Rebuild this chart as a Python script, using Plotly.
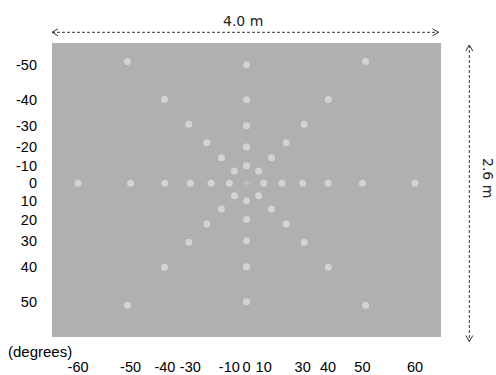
import numpy as np
import plotly.graph_objects as go

# Angular positions (degrees off the line of sight) of the target dots
horizontal_angles = [10, 20, 30, 40, 50, 60]
vertical_angles = [10, 20, 30, 40, 50]
diagonal_angles = [10, 20, 30, 40, 50, 60]

x_tick_labels = [-60, -50, -40, -30, -10, 0, 10, 30, 40, 50, 60]
y_tick_labels = [-50, -40, -30, -20, -10, 0, 10, 20, 30, 40, 50]

screen_width_label = "4.0 m"
screen_height_label = "2.6 m"
unit_label = "(degrees)"


def gnomonic(theta_deg, direction_deg):
    r = np.tan(np.radians(theta_deg))
    d = np.radians(direction_deg)
    return r * np.cos(d), r * np.sin(d)


xs, ys = [], []
for a in horizontal_angles:
    for d in (0, 180):
        x, y = gnomonic(a, d); xs.append(x); ys.append(y)
for a in vertical_angles:
    for d in (90, 270):
        x, y = gnomonic(a, d); xs.append(x); ys.append(y)
for a in diagonal_angles:
    for d in (45, 135, 225, 315):
        x, y = gnomonic(a, d); xs.append(x); ys.append(y)

fig = go.Figure()
fig.add_trace(go.Scatter(
    x=xs, y=ys, mode="markers",
    marker=dict(size=7, color="#d3d3d3", line=dict(width=0)),
    hoverinfo="skip", showlegend=False,
))
fig.add_trace(go.Scatter(
    x=[0], y=[0], mode="markers",
    marker=dict(size=5, symbol="cross-thin", color="#c6c6c6",
                line=dict(width=1, color="#c6c6c6")),
    hoverinfo="skip", showlegend=False,
))

W, H = 389.0, 294.0
def px(xp):
    return (xp - 52) / W
def py(yp):
    return (337 - yp) / H

line_style = dict(color="#333333", width=1, dash="3px,2px")
head_style = dict(color="#333333", width=1)
shapes = []
# horizontal double arrow
hy = py(32.3)
x0, x1 = px(52), px(438.5)
shapes.append(dict(type="line", xref="paper", yref="paper", x0=x0, x1=x1, y0=hy, y1=hy, line=line_style))
dx, dy = 6 / W, 3.5 / H
shapes.append(dict(type="path", xref="paper", yref="paper",
                   path=f"M{x0+dx},{hy+dy} L{x0},{hy} L{x0+dx},{hy-dy}", line=head_style))
shapes.append(dict(type="path", xref="paper", yref="paper",
                   path=f"M{x1-dx},{hy+dy} L{x1},{hy} L{x1-dx},{hy-dy}", line=head_style))
# vertical double arrow
vx = px(469.3)
y0, y1 = py(45), py(341.5)
shapes.append(dict(type="line", xref="paper", yref="paper", x0=vx, x1=vx, y0=y0, y1=y1, line=line_style))
ddx, ddy = 3.5 / W, 6 / H
shapes.append(dict(type="path", xref="paper", yref="paper",
                   path=f"M{vx-ddx},{y0-ddy} L{vx},{y0} L{vx+ddx},{y0-ddy}", line=head_style))
shapes.append(dict(type="path", xref="paper", yref="paper",
                   path=f"M{vx-ddx},{y1+ddy} L{vx},{y1} L{vx+ddx},{y1+ddy}", line=head_style))

annotations = [
    dict(text=screen_width_label, xref="paper", yref="paper", x=px(243), y=py(21.5),
         showarrow=False, xanchor="center", yanchor="middle",
         font=dict(family="DejaVu Sans", size=14, color="#222222")),
    dict(text=screen_height_label, xref="paper", yref="paper", x=px(488), y=py(178),
         showarrow=False, xanchor="center", yanchor="middle", textangle=90,
         font=dict(family="DejaVu Sans", size=14, color="#222222")),
    dict(text=unit_label, xref="paper", yref="paper", x=px(40), y=py(351.5),
         showarrow=False, xanchor="center", yanchor="middle",
         font=dict(family="Liberation Sans", size=15, color="#000000")),
]

tick_font = dict(family="Liberation Sans", size=14.5, color="#000000")
fig.update_layout(
    width=496, height=375,
    margin=dict(l=52, r=55, t=43, b=38, autoexpand=False),
    paper_bgcolor="white", plot_bgcolor="#b0b0b0",
    shapes=shapes, annotations=annotations,
    xaxis=dict(range=[-2.0, 2.0], showgrid=False, zeroline=False, showline=False,
               ticks="", tickvals=list(np.tan(np.radians(x_tick_labels))),
               ticktext=[str(v) for v in x_tick_labels], tickfont=tick_font,
               tickangle=0, automargin=False,
               ticklabelstandoff=19, fixedrange=True),
    yaxis=dict(range=[1.545, -1.410], showgrid=False, zeroline=False, showline=False,
               ticks="", tickvals=list(np.tan(np.radians(y_tick_labels))),
               ticktext=[str(v) for v in y_tick_labels], tickfont=tick_font,
               automargin=False,
               ticklabelstandoff=14, fixedrange=True),
)

fig.write_html("out.html", config={"displayModeBar": False})
